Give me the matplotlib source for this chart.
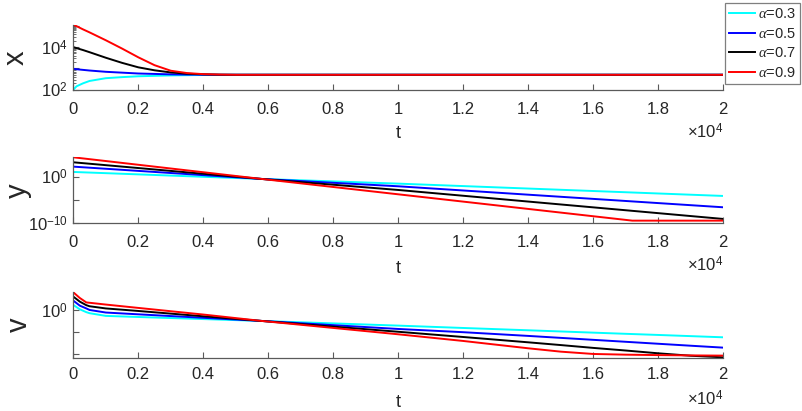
import matplotlib
matplotlib.use('Agg')
import matplotlib.pyplot as plt
import numpy as np
from matplotlib.ticker import FixedLocator, FuncFormatter, FixedFormatter, NullLocator

plt.rcParams['font.family'] = ['Liberation Sans', 'DejaVu Sans']
plt.rcParams['mathtext.fontset'] = 'custom'
plt.rcParams['mathtext.rm'] = 'Liberation Sans'
plt.rcParams['mathtext.it'] = 'Liberation Serif:italic'
plt.rcParams['mathtext.bf'] = 'Liberation Sans:bold'

# ---------------- data (log10 units) -------------
alphas = [0.3, 0.5, 0.7, 0.9]
colors = ['#00ffff', '#0000ff', '#000000', '#ff0000']
legend_labels = [r'$\alpha$=0.3', r'$\alpha$=0.5', r'$\alpha$=0.7', r'$\alpha$=0.9']

# panel x
t_x = [0, 100, 300, 500, 1000, 1500, 2000, 2500, 3000, 3500, 4000, 4500, 5000, 20000]
x_log_a03 = [2.00, 2.16, 2.30, 2.41, 2.54, 2.59, 2.63, 2.65, 2.67, 2.68, 2.69, 2.695, 2.70, 2.70]
x_log_a05 = [2.98, 2.96, 2.93, 2.90, 2.84, 2.80, 2.76, 2.74, 2.72, 2.71, 2.705, 2.70, 2.70, 2.70]
x_log_a07 = [4.00, 3.95, 3.86, 3.76, 3.50, 3.26, 3.05, 2.91, 2.81, 2.75, 2.72, 2.705, 2.70, 2.70]
x_log_a09 = [5.05, 4.98, 4.83, 4.69, 4.32, 3.93, 3.52, 3.15, 2.89, 2.78, 2.73, 2.71, 2.70, 2.70]

# panel y
t_y = [0, 5800, 10000, 17200, 20000]
y_log_a03 = [1.00, -0.50, -1.50, -3.40, -4.14]
y_log_a05 = [2.14, -0.50, -2.07, -5.31, -6.57]
y_log_a07 = [3.07, -0.50, -2.86, -7.33, -9.07]
y_log_a09 = [4.14, -0.50, -3.79, -9.43, -9.43]

# panel v
t_v = [0, 200, 400, 500, 1000, 2000, 4000, 5800, 10000, 12000, 14000, 15000,
       16000, 17000, 18000, 19000, 20000]
v_log_a03 = [1.15, 0.15, -0.50, -0.74, -1.36, -1.61, -2.09, -2.52, -3.59, -4.13,
             -4.66, -4.93, -5.20, -5.47, -5.73, -6.00, -6.27]
v_log_a05 = [2.14, 0.99, 0.35, 0.00, -0.59, -1.00, -1.80, -2.52, -4.36, -5.10,
             -5.95, -6.40, -6.85, -7.30, -7.75, -8.20, -8.64]
v_log_a07 = [3.06, 1.91, 1.10, 0.85, 0.35, -0.23, -1.45, -2.52, -5.00, -6.20,
             -7.42, -8.05, -8.70, -9.30, -9.94, -10.50, -10.86]
v_log_a09 = [4.05, 2.75, 1.73, 1.65, 1.24, 0.47, -1.05, -2.52, -5.58, -7.11,
             -8.79, -9.56, -10.09, -10.25, -10.35, -10.42, -10.47]

x_ticks = [0, 2000, 4000, 6000, 8000, 10000, 12000, 14000, 16000, 18000, 20000]

# ---------------- figure ------------------------------------------------------
W, H = 803, 411
fig = plt.figure(figsize=(W / 100, H / 100), dpi=100)
spine_c = '#5a5a5a'
text_c = '#262626'

def rect(top_px, bot_px):
    l = 73.3 / W
    w = 650 / W
    b = 1 - bot_px / H
    h = (bot_px - top_px) / H
    return [l, b, w, h]

ax1 = fig.add_axes(rect(24.7, 89.7))
ax2 = fig.add_axes(rect(157.3, 223.3))
ax3 = fig.add_axes(rect(292.3, 357.5))

panels = [
    (ax1, t_x, [x_log_a03, x_log_a05, x_log_a07, x_log_a09], 'x', 8.6, 6.0, -0.0665),
    (ax2, t_y, [y_log_a03, y_log_a05, y_log_a07, y_log_a09], 'y', 8.6, 7.0, -0.064),
    (ax3, t_v, [v_log_a03, v_log_a05, v_log_a07, v_log_a09], 'v', 6.8, 8.4, -0.062),
]

lines = []
for ax, tt, series, name, tpad, lpad, ylx in panels:
    for s, c, lab in zip(series, colors, legend_labels):
        ln, = ax.plot(tt, 10.0 ** np.array(s), color=c, lw=1.4, label=lab)
        if ax is ax1:
            lines.append(ln)
    ax.set_yscale('log')
    ax.set_xlim(0, 20000)
    for sp in ['top', 'right']:
        ax.spines[sp].set_visible(False)
    for sp in ['left', 'bottom']:
        ax.spines[sp].set_color(spine_c)
        ax.spines[sp].set_linewidth(0.9)
    ax.xaxis.set_major_locator(FixedLocator(x_ticks))
    ax.xaxis.set_major_formatter(FuncFormatter(lambda v, p: f'{v / 1e4:g}'))
    ax.tick_params(axis='both', which='major', direction='in', length=4,
                   width=0.8, color=spine_c, labelcolor=text_c, labelsize=12)
    ax.tick_params(axis='both', which='minor', direction='in', length=2,
                   width=0.6, color=spine_c)
    ax.tick_params(axis='x', pad=tpad)
    ax.tick_params(axis='y', pad=4)
    ax.set_xlabel('t', fontsize=13, color=text_c, labelpad=lpad)
    ax.set_ylabel(name, fontsize=21, color=text_c)
    ax.yaxis.set_label_coords(ylx, 0.5)
    ax.annotate(r'$\times10^{4}$', xy=(1, 0), xycoords='axes fraction',
                xytext=(0, -30), textcoords='offset points', ha='right',
                va='center', fontsize=12, color=text_c)

ax1.set_ylim(10 ** 2.0, 10 ** 5.05)
ax1.yaxis.set_major_locator(FixedLocator([1e2, 1e3, 1e4, 1e5]))
ax1.yaxis.set_major_formatter(FixedFormatter([r'$10^{2}$', '', r'$10^{4}$', '']))
minors = [m * 10.0 ** d for d in range(2, 5) for m in range(2, 10)]
ax1.yaxis.set_minor_locator(FixedLocator(minors))

ax2.set_ylim(10 ** -10.0, 10 ** 4.14)
ax2.yaxis.set_major_locator(FixedLocator([1e-10, 1e-5, 1e0]))
ax2.yaxis.set_major_formatter(FixedFormatter([r'$10^{-10}$', '', r'$10^{0}$']))
ax2.yaxis.set_minor_locator(NullLocator())

ax3.set_ylim(10 ** -10.9, 10 ** 4.05)
ax3.yaxis.set_major_locator(FixedLocator([1e-10, 1e-5, 1e0]))
ax3.yaxis.set_major_formatter(FixedFormatter(['', '', r'$10^{0}$']))
ax3.yaxis.set_minor_locator(NullLocator())

leg = fig.legend(handles=lines, loc='upper right',
                 bbox_to_anchor=(800 / W, 1 - 3 / H), fontsize=10.5,
                 frameon=True, fancybox=False, framealpha=1,
                 edgecolor='#7f7f7f', handlelength=1.75, handletextpad=0.2,
                 borderpad=0.3, labelspacing=0.38, borderaxespad=0)
leg.get_frame().set_linewidth(0.9)
for txt in leg.get_texts():
    txt.set_color(text_c)

fig.savefig('out.png', dpi=100)
